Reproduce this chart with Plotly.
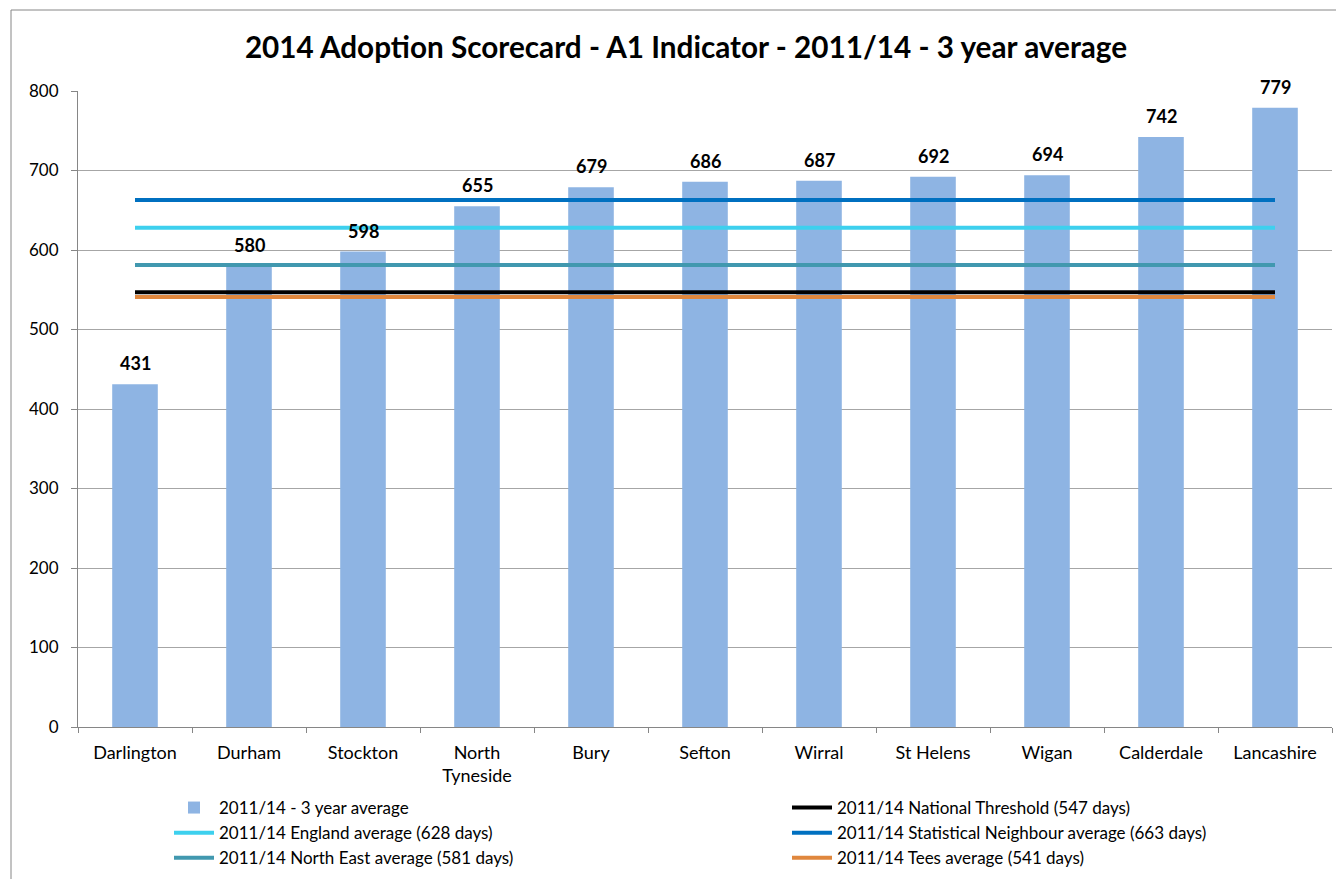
import plotly.graph_objects as go

categories = ["Darlington", "Durham", "Stockton", "North<br>Tyneside", "Bury", "Sefton",
              "Wirral", "St Helens", "Wigan", "Calderdale", "Lancashire"]
avg_3yr = [431, 580, 598, 655, 679, 686, 687, 692, 694, 742, 779]

national_threshold = 547
england_avg = 628
stat_neighbour_avg = 663
north_east_avg = 581
tees_avg = 541

y_ticks = [0, 100, 200, 300, 400, 500, 600, 700, 800]

FONT = "Lato"
W, H = 1336, 871
L, R, T, B = 70, 12, 83, 152
PW, PH = W - L - R, H - T - B

fig = go.Figure()
fig.add_trace(go.Bar(
    x=categories, y=avg_3yr, name="2011/14 - 3 year average",
    marker=dict(color="#8EB4E3", line=dict(width=0)), width=0.4,
))

ref_lines = [
    ("2011/14 National Threshold (547 days)", national_threshold, "#000000"),
    ("2011/14 England average (628 days)", england_avg, "#3DD0EE"),
    ("2011/14 Statistical Neighbour average (663 days)", stat_neighbour_avg, "#0070C0"),
    ("2011/14 North East average (581 days)", north_east_avg, "#4198AF"),
    ("2011/14 Tees average (541 days)", tees_avg, "#E0873D"),
]
for name, val, col in ref_lines:
    fig.add_trace(go.Scatter(
        x=categories, y=[val] * len(categories), name=name, mode="lines",
        line=dict(color=col, width=4),
    ))

for c, v in zip(categories, avg_3yr):
    fig.add_annotation(x=c, y=v, text=f"<b>{v}</b>", showarrow=False,
                       yanchor="bottom", yshift=8,
                       font=dict(family=FONT, size=18, color="#000000"))

# outer chart border
fig.add_shape(type="rect", xref="paper", yref="paper",
              x0=(3 - L) / PW, x1=1.2, y0=-0.5, y1=(T + PH - 2) / PH,
              line=dict(color="#868686", width=1), fillcolor="rgba(0,0,0,0)")

fig.update_layout(
    width=W, height=H,
    margin=dict(l=L, r=R, t=T, b=B, autoexpand=False),
    paper_bgcolor="white", plot_bgcolor="white",
    font=dict(family=FONT, size=17, color="#000000"),
    title=dict(text="<b>2014 Adoption Scorecard - A1 Indicator - 2011/14 - 3 year average</b>",
               x=678 / W, xanchor="center", y=1 - 40 / H, yanchor="middle",
               font=dict(family=FONT, size=29.7, color="#000000")),
    showlegend=True,
    legend=dict(orientation="h", xref="container", yref="container",
                x=161 / W, xanchor="left", y=1 - 782 / H, yanchor="top",
                font=dict(family=FONT, size=17), itemwidth=40,
                entrywidth=563, entrywidthmode="pixels",
                traceorder="normal", bgcolor="rgba(0,0,0,0)"),
)
fig.update_xaxes(type="category", range=[-0.5, 10.5], showline=True, linecolor="#868686",
                 ticks="outside", tickson="boundaries", ticklen=5, tickcolor="#868686",
                 showgrid=False, tickfont=dict(family=FONT, size=18),
                 ticklabelstandoff=9, automargin=False)
fig.update_yaxes(range=[0, 800], tickvals=y_ticks, showline=True, linecolor="#868686",
                 ticks="outside", ticklen=6, tickcolor="#868686",
                 showgrid=True, gridcolor="#A6A6A6", gridwidth=1, zeroline=False,
                 tickfont=dict(family=FONT, size=17), ticklabelstandoff=9,
                 automargin=False)

fig.write_html("out.html")
